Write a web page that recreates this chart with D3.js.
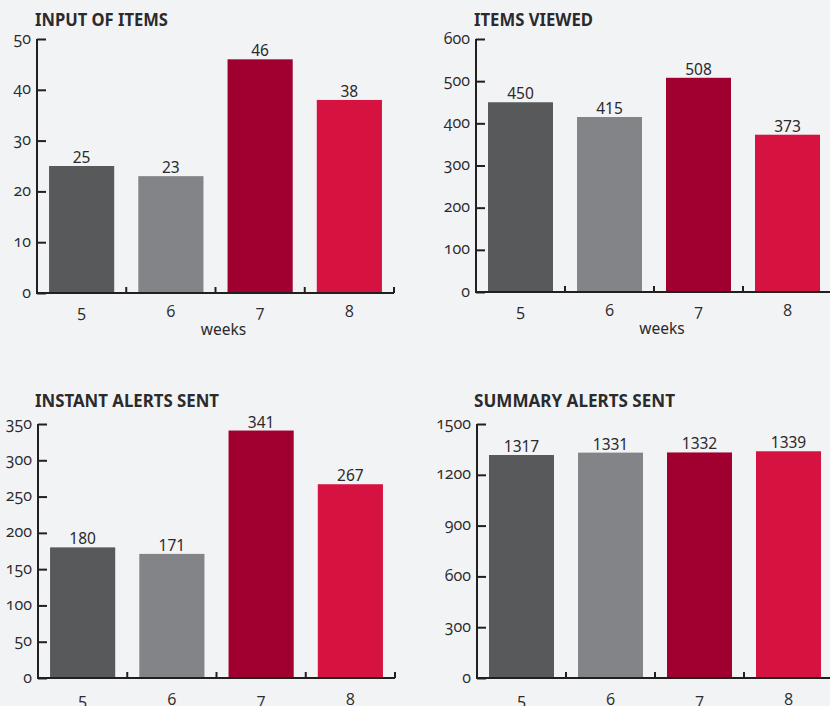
<!DOCTYPE html>
<html><head><meta charset="utf-8">
<script src="https://cdn.jsdelivr.net/npm/d3@7"></script>
<style>
html,body{margin:0;padding:0;background:#f2f3f5;}
svg{display:block;}
text{font-family:"Noto Sans","Open Sans",sans-serif;fill:#2b2a2c;}
.tick-lab{font-family:"Open Sans",sans-serif;font-variant-numeric:oldstyle-nums;font-feature-settings:"onum" 1;}
</style></head>
<body>
<script>
// ---- data ----
const weeks = ["5", "6", "7", "8"];
const titles = ["INPUT OF ITEMS", "ITEMS VIEWED", "INSTANT ALERTS SENT", "SUMMARY ALERTS SENT"];
const inputOfItems = [25, 23, 46, 38];
const itemsViewed = [450, 415, 508, 373];
const instantAlerts = [180, 171, 341, 267];
const summaryAlerts = [1317, 1331, 1332, 1339];
const yMax = [50, 600, 350, 1500];
const yTicks = [
  [0, 10, 20, 30, 40, 50],
  [0, 100, 200, 300, 400, 500, 600],
  [0, 50, 100, 150, 200, 250, 300, 350],
  [0, 300, 600, 900, 1200, 1500]
];
const xAxisTitle = "weeks";
const barColors = ["#58595b", "#838488", "#a0002f", "#d61241"];

// ---- layout ----
const W = 830, H = 706;
const panels = [
  {values: inputOfItems, x0: 37, x1: 394, top: 39, zero: 293, titleX: 35, titleY: 26, titleW: 133, lab: 18, showX: true},
  {values: itemsViewed, x0: 476, x1: 832, top: 39, zero: 292, titleX: 474, titleY: 26, titleW: 119, lab: 18, showX: true},
  {values: instantAlerts, x0: 38, x1: 395, top: 424, zero: 678, titleX: 35, titleY: 407, titleW: 184, lab: 21, showX: false},
  {values: summaryAlerts, x0: 477, x1: 833, top: 424, zero: 678, titleX: 474, titleY: 407, titleW: 201, lab: 21, showX: false}
];

const svg = d3.select("body").append("svg").attr("width", W).attr("height", H);

panels.forEach((p, i) => {
  const g = svg.append("g");
  const x = d3.scaleBand().domain(weeks).range([p.x0, p.x1]).paddingInner(0.27).paddingOuter(0.135);
  const xb = d3.scaleBand().domain(weeks).range([p.x0, p.x1]);
  const y = d3.scaleLinear().domain([0, yMax[i]]).range([p.zero, p.top]);

  // title
  g.append("text").attr("x", p.titleX).attr("y", p.titleY)
    .attr("font-size", 18).attr("font-weight", 700)
    .attr("textLength", p.titleW).attr("lengthAdjust", "spacingAndGlyphs")
    .text(titles[i]);

  // bars
  g.selectAll("rect.bar").data(p.values).join("rect").attr("class", "bar")
    .attr("x", (d, j) => x(weeks[j])).attr("width", x.bandwidth())
    .attr("y", d => y(d)).attr("height", d => y(0) - y(d))
    .attr("fill", (d, j) => barColors[j]);

  // value labels
  g.selectAll("text.val").data(p.values).join("text").attr("class", "val")
    .attr("x", (d, j) => x(weeks[j]) + x.bandwidth() / 2).attr("y", d => y(d) - 3)
    .attr("text-anchor", "middle").attr("font-size", 15.5).text(d => d);

  // y axis
  const ya = d3.axisLeft(y).tickValues(yTicks[i]).tickFormat(d3.format("d")).tickSize(0).tickPadding(6);
  const yg = g.append("g").attr("transform", `translate(${p.x0},0)`).call(ya);
  yg.select(".domain").remove();
  yg.selectAll("text").attr("class", "tick-lab").attr("font-size", 16).style("font-family", null)
    .attr("fill", "#2b2a2c").attr("dy", "0.25em").attr("x", -6);
  yg.selectAll(".tick").append("line").attr("x1", 0).attr("x2", 9).attr("stroke", "#231f20").attr("stroke-width", 2);
  g.append("line").attr("x1", p.x0).attr("x2", p.x0).attr("y1", p.top).attr("y2", p.zero + 1)
    .attr("stroke", "#231f20").attr("stroke-width", 2);

  // x axis
  g.append("line").attr("x1", p.x0 - 1).attr("x2", p.x1).attr("y1", p.zero).attr("y2", p.zero)
    .attr("stroke", "#231f20").attr("stroke-width", 2);
  g.selectAll("line.xt").data(weeks.slice(1).concat(["end"])).join("line").attr("class", "xt")
    .attr("x1", (d, j) => j < 3 ? xb(d) : p.x1).attr("x2", (d, j) => j < 3 ? xb(d) : p.x1)
    .attr("y1", p.zero).attr("y2", p.zero - 6).attr("stroke", "#231f20").attr("stroke-width", 2);
  g.selectAll("text.xl").data(weeks).join("text").attr("class", "xl tick-lab")
    .attr("x", d => xb(d) + xb.bandwidth() / 2).attr("y", p.zero + p.lab).attr("dy", "0.36em")
    .attr("text-anchor", "middle").attr("font-size", 16).text(d => d);
  if (p.showX) {
    g.append("text").attr("x", (p.x0 + p.x1) / 2 + 8).attr("y", p.zero + 42)
      .attr("text-anchor", "middle").attr("font-size", 15.5).text(xAxisTitle);
  }
});
</script>
</body></html>
